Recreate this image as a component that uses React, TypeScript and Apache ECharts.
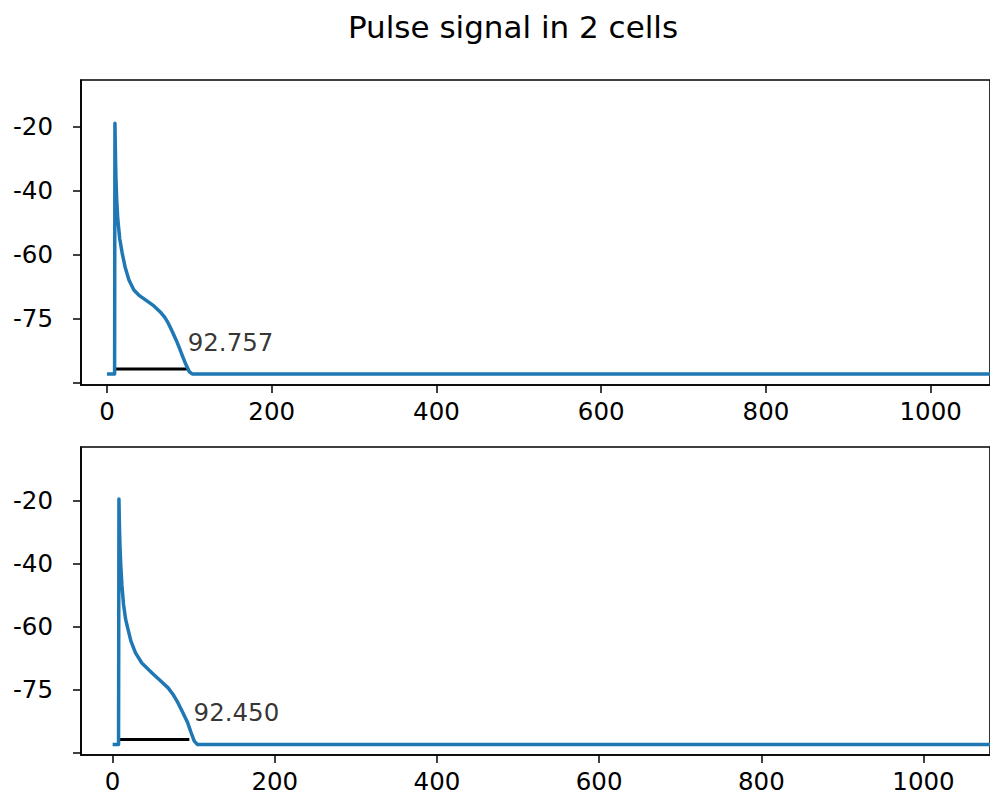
import React, { useEffect, useRef } from "react";
import * as echarts from "echarts";

// ---------- data ----------
const titleText = "Pulse signal in 2 cells";

// cell 1 trace (time, voltage)
const cell1Time = [0, 9.3, 9.7, 10.2, 10.8, 11.8, 13.2, 15.5, 18.5, 22.0, 26.7, 32.7, 38.6, 48.5, 57.0, 64.4, 70.0, 74.3, 79.0, 84.1, 88.0, 92.1, 96.0, 100.1, 104, 1100];
const cell1Volt = [-97.3, -97.3, -18.9, -27.0, -35.0, -42.5, -49.0, -55.0, -59.5, -63.8, -67.9, -71.0, -72.6, -74.4, -76.0, -77.8, -79.5, -81.3, -83.8, -86.7, -89.2, -91.9, -94.4, -96.6, -97.3, -97.3];

// cell 2 trace
const cell2Time = [0, 7.3, 7.8, 8.3, 9.0, 10.1, 11.5, 13.5, 16.0, 18.1, 22.5, 28.2, 36.0, 48.3, 58.0, 68.4, 74.5, 80.5, 86.5, 92.6, 96.5, 100.7, 104.7, 1100];
const cell2Volt = [-97.4, -97.4, -19.5, -27.0, -34.0, -40.8, -47.0, -53.0, -57.6, -59.9, -64.5, -68.3, -71.5, -74.6, -76.9, -79.4, -81.5, -84.1, -87.2, -90.5, -93.4, -96.3, -97.4, -97.4];

// duration bars
const cell1BarX = [9, 98.5];
const cell1BarY = -95.7;
const cell2BarX = [7.2, 94.6];
const cell2BarY = -95.8;

// annotations
const cell1Label = "92.757";
const cell1LabelPos = [98, -87.3];
const cell2Label = "92.450";
const cell2LabelPos = [99.8, -87.2];

// axis ticks
const xTicks = [0, 200, 400, 600, 800, 1000];
const yTickValues = [-20, -40, -60, -80, -100];
const yTickLabels = ["-20", "-40", "-60", "-75", ""];

const FONT = "DejaVu Sans";
const BLUE = "#1f77b4";
const TICK_FONT = 24.5;

function zip(a: number[], b: number[]) {
  return a.map((v, i) => [v, b[i]]);
}

export default function App() {
  const ref = useRef<HTMLDivElement>(null);
  useEffect(() => {
    if (!ref.current) return;
    const chart = echarts.init(ref.current, undefined, { renderer: "svg" });

    const makeX = (gridIndex: number, min: number, max: number) => ({
      type: "value",
      gridIndex,
      min,
      max,
      splitLine: { show: false },
      axisLine: { show: true, onZero: false, lineStyle: { color: "#000", width: 1.6 } },
      axisTick: { show: true, length: 8, customValues: xTicks, lineStyle: { color: "#000", width: 1.5 } },
      axisLabel: {
        show: true,
        customValues: xTicks,
        color: "#000",
        fontFamily: FONT,
        fontSize: TICK_FONT,
        lineHeight: 24,
        margin: 14,
        formatter: (v: number) => String(v),
      },
    });
    const makeY = (gridIndex: number, min: number, max: number) => ({
      type: "value",
      gridIndex,
      min,
      max,
      splitLine: { show: false },
      axisLine: { show: true, onZero: false, lineStyle: { color: "#000", width: 1.6 } },
      axisTick: { show: true, length: 8, customValues: yTickValues, lineStyle: { color: "#000", width: 1.5 } },
      axisLabel: {
        show: true,
        customValues: yTickValues,
        color: "#000",
        fontFamily: FONT,
        fontSize: TICK_FONT,
        margin: 28,
        formatter: (v: number) => {
          const i = yTickValues.findIndex((t) => Math.abs(t - v) < 1e-6);
          return i >= 0 ? yTickLabels[i] : "";
        },
      },
    });

    const labelSeries = (idx: number, pos: number[], text: string) => ({
      type: "scatter",
      xAxisIndex: idx,
      yAxisIndex: idx,
      data: [pos],
      symbolSize: 0,
      silent: true,
      label: {
        show: true,
        position: "right",
        distance: 0,
        formatter: text,
        color: "#000",
        fontFamily: FONT,
        fontSize: TICK_FONT,
      },
    });

    const traceSeries = (idx: number, data: number[][]) => ({
      type: "line",
      xAxisIndex: idx,
      yAxisIndex: idx,
      data,
      showSymbol: false,
      smooth: false,
      lineStyle: { color: BLUE, width: 3.5, join: "round", cap: "butt" },
      silent: true,
    });

    const barSeries = (idx: number, xs: number[], y: number) => ({
      type: "line",
      xAxisIndex: idx,
      yAxisIndex: idx,
      data: xs.map((x) => [x, y]),
      showSymbol: false,
      lineStyle: { color: "#000", width: 3 },
      silent: true,
    });

    chart.setOption({
      animation: false,
      backgroundColor: "#fff",
      graphic: [
        {
          type: "text",
          x: 513,
          y: 27,
          style: {
            text: titleText,
            fontFamily: FONT,
            fontSize: 31,
            fill: "#000",
            textAlign: "center",
            textVerticalAlign: "middle",
          },
        },
      ],
      grid: [
        { left: 81, top: 80, width: 929, height: 305, show: true, borderColor: "#000", borderWidth: 1.6 },
        { left: 81, top: 447, width: 929, height: 308, show: true, borderColor: "#000", borderWidth: 1.6 },
      ],
      xAxis: [makeX(0, -31.5, 1072), makeX(1, -39, 1082)],
      yAxis: [makeY(0, -100.7, -5.4), makeY(1, -100.7, -3.0)],
      series: [
        barSeries(0, cell1BarX, cell1BarY),
        traceSeries(0, zip(cell1Time, cell1Volt)),
        barSeries(1, cell2BarX, cell2BarY),
        traceSeries(1, zip(cell2Time, cell2Volt)),
        labelSeries(0, cell1LabelPos, cell1Label),
        labelSeries(1, cell2LabelPos, cell2Label),
      ],
    });
    return () => chart.dispose();
  }, []);

  return (
    <div
      ref={ref}
      style={{ position: "absolute", left: 0, top: 0, width: 990, height: 794, background: "#fff" }}
    />
  );
}
